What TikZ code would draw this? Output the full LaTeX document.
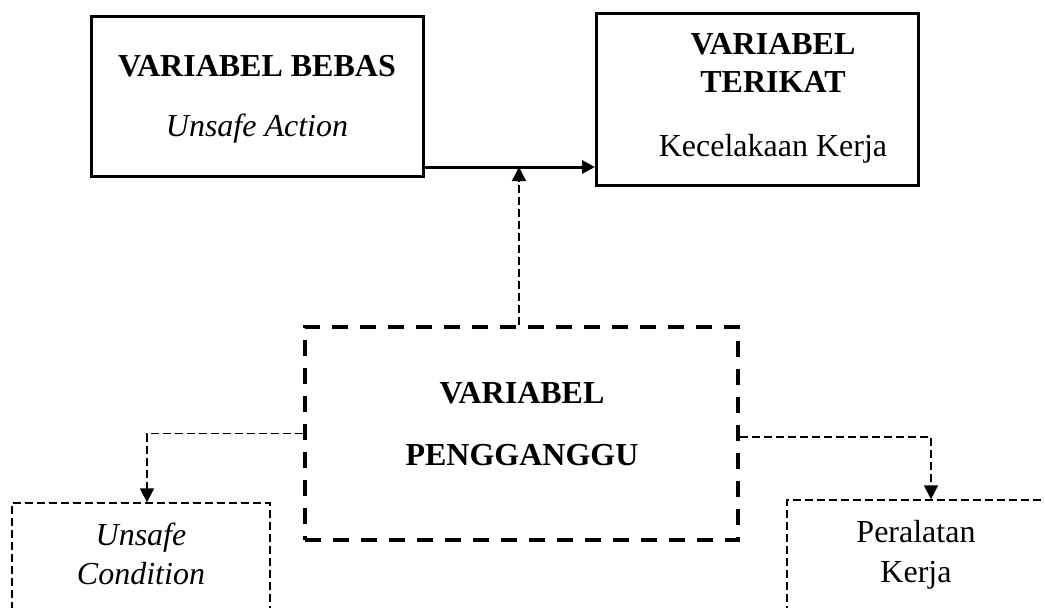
\documentclass[tikz,border=0pt]{standalone}
\usepackage{fontspec}
\setmainfont{Liberation Serif}
\usetikzlibrary{arrows.meta}

\tikzset{
	kotak/.style={draw, line width=1.5pt, inner sep=0pt},
	kotakputus/.style={draw, line width=2pt, dash pattern=on 8pt off 6pt, inner sep=0pt},
	kotaktipis/.style={draw, line width=0.65pt, dash pattern=on 4pt off 2pt, inner sep=0pt},
	teks/.style={align=center, inner sep=0pt, font=\fontsize{16}{19.5}\selectfont},
	panah/.style={line width=1.5pt, -{Triangle[length=6.5pt,width=6.5pt]}},
	panahputus/.style={line width=0.65pt, dash pattern=on 4pt off 2pt, -{Triangle[length=7pt,width=7pt]}}
}

\begin{document}
\begin{tikzpicture}[x=0.5pt,y=-0.5pt]
	\useasboundingbox (0,0) rectangle (1045,607);
	\clip (0,0) rectangle (1045,607);
	
	%kotak atas
	\node[kotak, minimum width=166pt, minimum height=80pt] (bebas) at (257,96.5) {};
	\node[kotak, minimum width=161pt, minimum height=86pt] (terikat) at (757.5,99.5) {};
	\node[teks] (bebasteks) at (257,99) {\textbf{VARIABEL BEBAS}\\[10.5pt]\textit{Unsafe Action}};
	\node[teks] (terikatteks) at (773,98.5) {\textbf{VARIABEL}\\[-0.5pt]\textbf{TERIKAT}\\[12.5pt]Kecelakaan Kerja};
	
	%kotak pengganggu
	\node[kotakputus, minimum width=216.5pt, minimum height=106.5pt] (pengganggu) at (521.5,433.5) {};
	\node[teks] (pengganggutks) at (522,424) {\textbf{VARIABEL}\\[11.5pt]\textbf{PENGGANGGU}};
	
	%kotak bawah (terpotong)
	\node[kotaktipis, minimum width=129pt, minimum height=88.5pt] (kondisi) at (141,591.5) {};
	\node[kotaktipis, minimum width=156.5pt, minimum height=90pt] (peralatan) at (943.5,590) {};
	\node[teks] (kondisiteks) at (141,554) {\textit{Unsafe}\\\textit{Condition}};
	\node[teks] (peralatanteks) at (916,554.5) {Peralatan\\[0.5pt]Kerja};
	
	%panah
	\coordinate (temu) at (519,167);
	\draw[panah] (temu -| bebas.east) -- (temu -| terikat.west);
	\draw[panahputus] (pengganggu.north -| temu) -- (temu);
	\draw[panahputus] (pengganggu.west) -| ([xshift=3pt]kondisi.north);
	\draw[panahputus] ([yshift=-1.75pt]pengganggu.east) -| ([xshift=-6.25pt]peralatan.north);
\end{tikzpicture}
\end{document}
